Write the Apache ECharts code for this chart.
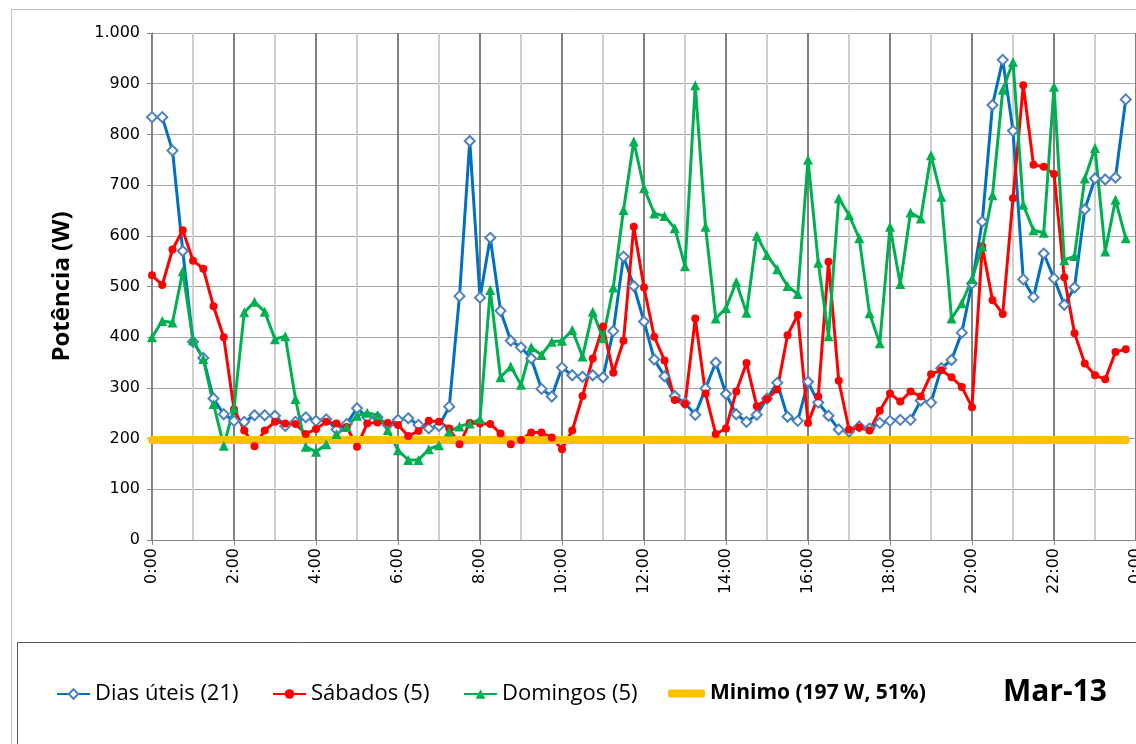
<!DOCTYPE html>
<html>
<head>
<meta charset="utf-8">
<script src="https://cdn.jsdelivr.net/npm/echarts@6/dist/echarts.min.js"></script>
<style>
html,body{margin:0;padding:0;background:#fff;}
#chart{width:1136px;height:744px;}
</style>
</head>
<body>
<div id="chart"></div>
<script>
// potência média por quarto de hora (W), Março 2013
const diasUteis = [834,834,768,570,391,359,279,248,235,233,246,246,245,225,233,242,235,238,218,229,260,242,242,227,
  237,240,227,220,225,263,481,787,478,596,452,393,380,358,298,283,340,325,322,325,321,412,559,501,
  431,356,323,284,270,247,299,350,288,248,233,247,279,310,243,235,312,271,245,218,214,224,220,231,
  235,237,237,275,271,339,355,409,506,628,858,947,807,514,479,565,516,464,498,652,713,711,715,869];
const sabados = [522,503,573,611,551,535,461,400,258,216,185,216,233,230,229,209,219,233,230,223,184,230,232,231,
  227,205,215,235,233,220,189,231,230,229,210,189,197,212,212,202,179,216,284,358,421,330,393,618,
  498,401,354,276,268,437,289,209,220,293,349,264,278,297,404,444,231,283,549,314,218,222,216,255,
  289,273,293,283,327,335,321,302,262,579,473,446,674,897,740,736,722,518,408,348,325,317,371,376];
const domingos = [400,432,429,530,394,357,268,186,260,449,470,450,396,402,278,184,174,189,209,223,245,251,246,217,
  177,158,158,179,187,214,224,230,238,493,321,342,306,380,365,391,393,414,362,450,398,498,651,786,
  694,644,639,615,540,897,618,437,457,509,448,600,562,534,501,485,750,547,402,674,641,595,447,388,
  618,505,646,634,759,677,437,467,515,579,680,888,943,661,611,606,894,552,560,713,773,569,671,595];
const minimo = 197;

const horas = [];
for (let h = 0; h <= 24; h++) {
    for (let m = 0; m < 60; m += 15) {
        if (h === 24 && m > 0) break;
        horas.push((h % 24) + ':' + (m < 10 ? '0' + m : m));
    }
}

const nomes = ['Dias úteis (21)', 'Sábados (5)', 'Domingos (5)', 'Minimo (197 W, 51%)'];

var myChart = echarts.init(document.getElementById('chart'));

function legenda(item, left, bold) {
    return {
        data: [item],
        left: left,
        top: 683,
        padding: 0,
        itemWidth: bold ? 37 : 33,
        itemHeight: bold ? 8 : 12,
        textStyle: {
            fontFamily: 'Open Sans',
            fontSize: bold ? 21 : 22,
            fontWeight: bold ? 'bold' : 'normal',
            color: '#000'
        }
    };
}

var option = {
    animation: false,
    backgroundColor: '#fff',
    graphic: [
        {type: 'rect', z: -10, shape: {x: 11.5, y: 9.5, width: 1200, height: 800},
            style: {fill: 'none', stroke: '#bfbfbf', lineWidth: 1}},
        {type: 'rect', z: -10, shape: {x: 17.5, y: 642.5, width: 1200, height: 200},
            style: {fill: 'none', stroke: '#595959', lineWidth: 1}},
        {type: 'text', left: 1003, top: 677,
            style: {text: 'Mar-13', font: 'bold 30px "Open Sans"', fill: '#000'}}
    ],
    legend: [
        legenda(nomes[0], 56),
        legenda(nomes[1], 272),
        legenda(nomes[2], 463),
        legenda({name: nomes[3], icon: 'roundRect'}, 668, true)
    ],
    grid: {
        left: 152,
        right: 0,
        top: 33,
        bottom: 204,
        containLabel: false,
        outerBoundsMode: 'none'
    },
    xAxis: {
        type: 'category',
        data: horas,
        boundaryGap: false,
        axisLine: {lineStyle: {color: '#868686', width: 1}},
        axisTick: {show: true, interval: 7, length: 5, lineStyle: {color: '#868686'}},
        axisLabel: {
            interval: 7,
            rotate: 90,
            margin: 8,
            fontFamily: 'DejaVu Sans',
            fontSize: 16,
            color: '#000'
        },
        splitLine: {
            show: true,
            interval: 3,
            lineStyle: {color: ['#808080', '#cfcfcf'], width: 2}
        }
    },
    yAxis: {
        type: 'value',
        min: 0,
        max: 1000,
        interval: 100,
        name: 'Potência (W)',
        nameLocation: 'middle',
        nameGap: 78,
        nameTextStyle: {fontFamily: 'Open Sans', fontWeight: 'bold', fontSize: 24, color: '#000'},
        axisLine: {show: true, lineStyle: {color: '#868686'}},
        axisTick: {show: true, length: 5, lineStyle: {color: '#868686'}},
        axisLabel: {
            margin: 12,
            fontFamily: 'DejaVu Sans',
            fontSize: 16,
            color: '#000',
            formatter: function (v) { return v === 1000 ? '1.000' : String(v); }
        },
        splitLine: {lineStyle: {color: '#a6a6a6', width: 1}}
    },
    series: [
        {
            name: nomes[0],
            type: 'line',
            data: diasUteis,
            showAllSymbol: true,
            symbol: 'diamond',
            symbolSize: 10,
            lineStyle: {color: '#0070C0', width: 3},
            itemStyle: {color: '#fff', borderColor: '#4F81BD', borderWidth: 2}
        },
        {
            name: nomes[1],
            type: 'line',
            data: sabados,
            showAllSymbol: true,
            symbol: 'circle',
            symbolSize: 8,
            lineStyle: {color: '#FF0000', width: 3},
            itemStyle: {color: '#FF0000'}
        },
        {
            name: nomes[2],
            type: 'line',
            data: domingos,
            showAllSymbol: true,
            symbol: 'triangle',
            symbolSize: 10,
            lineStyle: {color: '#00B050', width: 3},
            itemStyle: {color: '#00B050'}
        },
        {
            name: nomes[3],
            type: 'line',
            data: diasUteis.map(function () { return minimo; }),
            symbol: 'none',
            lineStyle: {color: '#FFC000', width: 8, cap: 'round'},
            itemStyle: {color: '#FFC000'}
        }
    ]
};
myChart.setOption(option);
</script>
</body>
</html>
